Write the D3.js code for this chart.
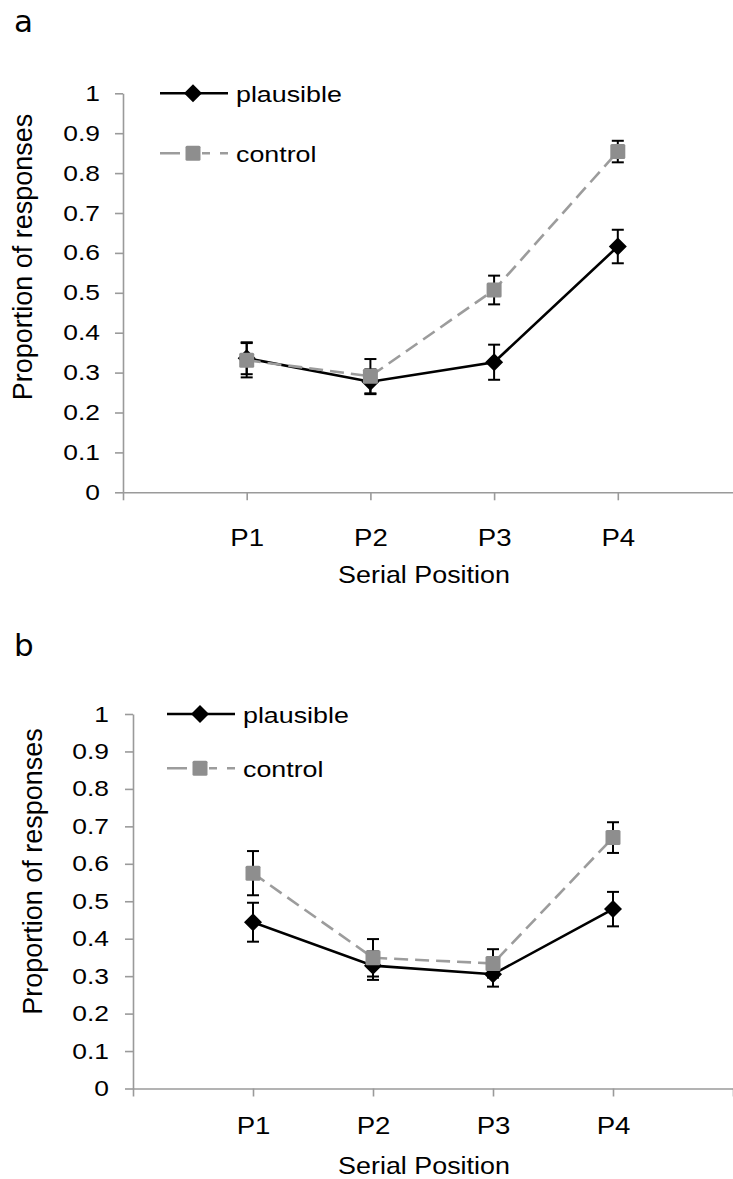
<!DOCTYPE html>
<html>
<head>
<meta charset="utf-8">
<script src="https://cdn.jsdelivr.net/npm/d3@7"></script>
<style>
  html, body { margin: 0; padding: 0; background: #fff; }
  svg { display: block; }
  text { font-family: "Liberation Sans", Arial, sans-serif; fill: #000; }
</style>
</head>
<body>
<svg id="chart" width="733" height="1179"></svg>
<script>
// ---- data ----
const categories = ["P1", "P2", "P3", "P4"];
const yTickValues = [0, 0.1, 0.2, 0.3, 0.4, 0.5, 0.6, 0.7, 0.8, 0.9, 1];
const seriesNames = ["plausible", "control"];
const panelLabels = ["a", "b"];
const xTitle = "Serial Position";
const yTitle = "Proportion of responses";

// panel a
const plausibleA    = [0.336, 0.277, 0.326, 0.616];
const plausibleErrA = [0.040, 0.031, 0.044, 0.042];
const controlA      = [0.331, 0.291, 0.507, 0.854];
const controlErrA   = [0.043, 0.043, 0.036, 0.027];

// panel b
const plausibleB    = [0.444, 0.328, 0.305, 0.479];
const plausibleErrB = [0.052, 0.038, 0.033, 0.046];
const controlB      = [0.575, 0.349, 0.334, 0.670];
const controlErrB   = [0.059, 0.050, 0.038, 0.041];

// ---- styles ----
const AXIS_COLOR = "#9a9a9a";
const CONTROL_LINE = "#9c9c9c";
const CONTROL_FILL = "#8e8e8e";
const DASH = "14,7";

const svg = d3.select("#chart");

// widen horizontal text about its anchor x
function stretch(sel, sx) {
  sel.attr("transform", function () {
    const x = +this.getAttribute("x") || 0;
    return `translate(${x},0) scale(${sx},1) translate(${-x},0)`;
  });
}

const diamondPath = r => `M0,${-r}L${r},0L0,${r}L${-r},0Z`;

function drawPanel(cfg) {
  const g = svg.append("g");
  const n = categories.length;
  const y = d3.scaleLinear().domain([0, 1]).range([cfg.bottom, cfg.top]);
  const x = d3.scaleLinear().domain([0, n + 1])
    .range([cfg.left, cfg.left + cfg.step * (n + 1)]);

  // panel letter
  g.append("text")
    .attr("x", 14).attr("y", cfg.letterY)
    .style("font-family", "'DejaVu Sans', sans-serif")
    .style("font-size", "31px")
    .text(cfg.letter);

  // y axis
  const yAxis = g.append("g")
    .attr("transform", `translate(${cfg.left},0)`)
    .call(d3.axisLeft(y).tickValues(yTickValues).tickFormat(d3.format("~g"))
      .tickSize(8).tickPadding(cfg.yPad).tickSizeOuter(0));
  yAxis.select(".domain").attr("stroke", AXIS_COLOR).attr("stroke-width", 1.6);
  yAxis.selectAll(".tick line").attr("stroke", AXIS_COLOR).attr("stroke-width", 1.6);
  yAxis.selectAll(".tick text").attr("fill", "#000")
    .style("font-family", "'Liberation Sans', Arial, sans-serif")
    .style("font-size", "22px").call(stretch, 1.2);

  // x axis
  const xAxis = g.append("g")
    .attr("transform", `translate(0,${cfg.bottom})`)
    .call(d3.axisBottom(x).tickValues(d3.range(0, n + 2))
      .tickFormat(i => categories[i - 1] || "")
      .tickSize(8).tickPadding(cfg.xPad).tickSizeOuter(0));
  xAxis.select(".domain").attr("stroke", AXIS_COLOR).attr("stroke-width", 1.6);
  xAxis.selectAll(".tick line").attr("stroke", AXIS_COLOR).attr("stroke-width", 1.6);
  xAxis.selectAll(".tick text").attr("fill", "#000")
    .style("font-family", "'Liberation Sans', Arial, sans-serif")
    .style("font-size", "23px").call(stretch, 1.2);

  // axis titles
  g.append("text")
    .attr("x", 424).attr("y", cfg.xTitleY)
    .attr("text-anchor", "middle")
    .style("font-size", "24px")
    .text(xTitle).call(stretch, 1.12);

  g.append("text")
    .attr("transform", `translate(${cfg.yTitleX},${cfg.yTitleY}) rotate(-90)`)
    .attr("text-anchor", "middle")
    .style("font-size", "27px")
    .text(yTitle);

  const series = [
    { name: seriesNames[0], vals: cfg.plausible, errs: cfg.plausibleErr, kind: "diamond" },
    { name: seriesNames[1], vals: cfg.control, errs: cfg.controlErr, kind: "square" }
  ];

  const line = d3.line().x((d, i) => x(i + 1)).y(d => y(d));

  series.forEach(s => {
    const sg = g.append("g");
    // error bars
    const eb = sg.selectAll("g.err").data(s.vals).join("g").attr("class", "err");
    eb.append("line")
      .attr("x1", (d, i) => x(i + 1)).attr("x2", (d, i) => x(i + 1))
      .attr("y1", (d, i) => y(d + s.errs[i])).attr("y2", (d, i) => y(d - s.errs[i]))
      .attr("stroke", "#000").attr("stroke-width", 2);
    [1, -1].forEach(sign => {
      eb.append("line")
        .attr("x1", (d, i) => x(i + 1) - 6).attr("x2", (d, i) => x(i + 1) + 6)
        .attr("y1", (d, i) => y(d + sign * s.errs[i])).attr("y2", (d, i) => y(d + sign * s.errs[i]))
        .attr("stroke", "#000").attr("stroke-width", 2);
    });
    // connecting line
    sg.append("path").datum(s.vals)
      .attr("d", line)
      .attr("fill", "none")
      .attr("stroke", s.kind === "diamond" ? "#000" : CONTROL_LINE)
      .attr("stroke-width", 2.6)
      .attr("stroke-dasharray", s.kind === "diamond" ? null : DASH);
    // markers
    if (s.kind === "diamond") {
      sg.selectAll("path.mk").data(s.vals).join("path").attr("class", "mk")
        .attr("transform", (d, i) => `translate(${x(i + 1)},${y(d)})`)
        .attr("d", diamondPath(9)).attr("fill", "#000");
    } else {
      sg.selectAll("rect.mk").data(s.vals).join("rect").attr("class", "mk")
        .attr("x", (d, i) => x(i + 1) - 7.5).attr("y", d => y(d) - 7.5)
        .attr("width", 15).attr("height", 15).attr("rx", 1.5)
        .attr("fill", CONTROL_FILL);
    }
  });

  // legend
  const lg = g.append("g");
  const lx0 = cfg.legendX, lx1 = cfg.legendX + 68, lxm = cfg.legendX + 33;
  // plausible
  lg.append("line").attr("x1", lx0).attr("x2", lx1)
    .attr("y1", cfg.legendY[0]).attr("y2", cfg.legendY[0])
    .attr("stroke", "#000").attr("stroke-width", 2.6);
  lg.append("path").attr("transform", `translate(${lxm},${cfg.legendY[0]})`)
    .attr("d", diamondPath(9)).attr("fill", "#000");
  // control
  lg.append("line").attr("x1", lx0).attr("x2", lx1)
    .attr("y1", cfg.legendY[1]).attr("y2", cfg.legendY[1])
    .attr("stroke", CONTROL_LINE).attr("stroke-width", 2.6)
    .attr("stroke-dasharray", "20,22,8,10,10");
  lg.append("rect").attr("x", lxm - 7.5).attr("y", cfg.legendY[1] - 7.5)
    .attr("width", 15).attr("height", 15).attr("rx", 1.5).attr("fill", CONTROL_FILL);
  seriesNames.forEach((nm, k) => {
    lg.append("text")
      .attr("x", lx1 + 8).attr("y", cfg.legendY[k] + 9)
      .style("font-size", "22px")
      .text(nm).call(stretch, 1.22);
  });
}

drawPanel({
  letter: panelLabels[0], letterY: 32,
  left: 123, top: 93.3, bottom: 492.3, step: 123.7,
  yPad: 15, xPad: 29,
  xTitleY: 583, yTitleX: 31.5, yTitleY: 257,
  legendX: 160, legendY: [93.3, 153.3],
  plausible: plausibleA, plausibleErr: plausibleErrA,
  control: controlA, controlErr: controlErrA
});

drawPanel({
  letter: panelLabels[1], letterY: 656,
  left: 133, top: 714, bottom: 1088.5, step: 120,
  yPad: 16, xPad: 21,
  xTitleY: 1174, yTitleX: 41.5, yTitleY: 871.5,
  legendX: 167, legendY: [714, 768.3],
  plausible: plausibleB, plausibleErr: plausibleErrB,
  control: controlB, controlErr: controlErrB
});
</script>
</body>
</html>
